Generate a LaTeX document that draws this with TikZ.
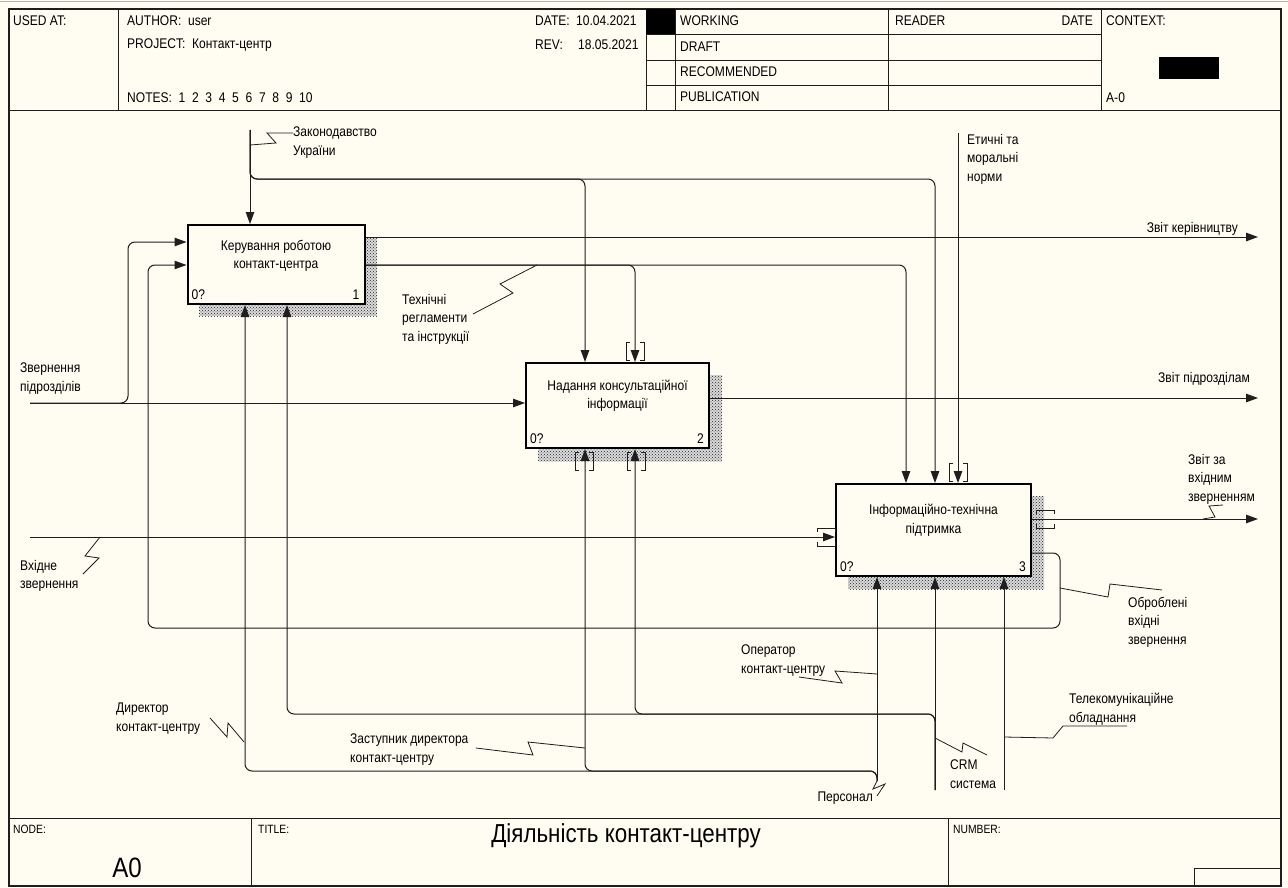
\documentclass[tikz,border=0pt]{standalone}
\usepackage{fontspec}
\setmainfont{Liberation Sans}[FakeStretch=0.86]
\usepackage{tikz}
\usetikzlibrary{arrows.meta,calc,patterns}
\definecolor{paper}{RGB}{255,252,242}
\definecolor{ink}{RGB}{30,30,30}
\newcommand{\lbl}{\fontsize{14}{18.5}\selectfont}
% tunnel brackets round a vertical / horizontal arrow
\newcommand{\tunv}[2]{%
  \draw[tun] (#1-5,#2-9) -- (#1-9,#2-9) -- (#1-9,#2+9) -- (#1-5,#2+9);
  \draw[tun] (#1+5,#2-9) -- (#1+9,#2-9) -- (#1+9,#2+9) -- (#1+5,#2+9);}
\newcommand{\tunh}[2]{%
  \draw[tun] (#1-9,#2-5) -- (#1-9,#2-9) -- (#1+9,#2-9) -- (#1+9,#2-5);
  \draw[tun] (#1-9,#2+5) -- (#1-9,#2+9) -- (#1+9,#2+9) -- (#1+9,#2+5);}

\begin{document}
\begin{tikzpicture}[
  x=1pt, y=-1pt,
  font=\lbl, text=black,
  frm/.style={draw=ink, line width=1.4pt},
  cell/.style={draw=ink, line width=0.9pt},
  fn/.style={draw=black, line width=2pt, fill=paper, inner sep=0pt},
  shd/.style={pattern=crosshatch dots, pattern color=black!85},
  arr/.style={draw=ink, line width=1pt, rounded corners=7pt},
  tun/.style={draw=ink, line width=1pt},
  sq/.style={draw=ink, line width=0.8pt},
  lab/.style={align=left, anchor=north west, inner sep=0pt},
  hd/.style={anchor=west, inner sep=0pt},
  >={Triangle[length=12pt,width=8.5pt]}
]
\useasboundingbox (0,0) rectangle (1288,888);
\fill[paper] (0,0) rectangle (1288,888);
\draw[gray!60, line width=1pt] (0,2) -- (1288,2);

% Frame and header
\draw[frm] (9,9) rectangle (1281,886);
\draw[cell] (9,110) -- (1281,110);
\draw[cell] (118,9) -- (118,110);
\draw[cell] (646,9) -- (646,110);
\draw[cell] (675,9) -- (675,110);
\draw[cell] (888,9) -- (888,110);
\draw[cell] (1101,9) -- (1101,110);
\foreach \y in {34,60,85} \draw[cell] (646,\y) -- (1101,\y);
\fill[black] (646,9) rectangle (675,34);
\fill[black] (1159,57) rectangle (1219,79);

\node[hd] (usedat) at (13,21) {USED AT:};
\node[hd] (author) at (127,21) {AUTHOR:\ \ user};
\node[hd] (project) at (127,45) {PROJECT:\ \ Контакт-центр};
\node[hd] (notes) at (127,98) {NOTES:\ \ 1\ \ 2\ \ 3\ \ 4\ \ 5\ \ 6\ \ 7\ \ 8\ \ 9\ \ 10};
\node[hd] (datek) at (535,21) {DATE:};
\node[hd] (datev) at (576,21) {10.04.2021};
\node[hd] (revk) at (535,45) {REV:};
\node[hd] (revv) at (578,45) {18.05.2021};
\node[hd] (working) at (680,21) {WORKING};
\node[hd] (draft) at (680,47) {DRAFT};
\node[hd] (recomm) at (680,72) {RECOMMENDED};
\node[hd] (public) at (680,97) {PUBLICATION};
\node[hd] (reader) at (895,21) {READER};
\node[anchor=east, inner sep=0pt] (rdate) at (1093,21) {DATE};
\node[hd] (context) at (1106,21) {CONTEXT:};
\node[hd] (ctxnode) at (1106,98) {A-0};

% Footer
\draw[cell] (9,818) -- (1281,818);
\draw[cell] (251,818) -- (251,886);
\draw[cell] (948,818) -- (948,886);
\draw[cell] (1194,886) -- (1194,868) -- (1281,868);
\node[hd, font=\fontsize{12}{14}\selectfont] (nodek) at (13,829) {NODE:};
\node[hd, font=\fontsize{12}{14}\selectfont] (titlek) at (258,829) {TITLE:};
\node[hd, font=\fontsize{12}{14}\selectfont] (numberk) at (953,829) {NUMBER:};
\node[inner sep=0pt, font=\fontsize{26}{30}\selectfont] (title) at (626,836) {Діяльність контакт-центру};
\node[inner sep=0pt, font=\fontsize{28}{32}\selectfont] (nodev) at (127,868) {A0};

% Function boxes with shadows
\fill[gray!30] (199,237) rectangle (377,316);
\fill[gray!30] (538,375) rectangle (722,461);
\fill[gray!30] (848,496) rectangle (1044,589);
\fill[shd] (199,237) rectangle (377,316);
\fill[shd] (538,375) rectangle (722,461);
\fill[shd] (848,496) rectangle (1044,589);
\node[fn, minimum width=177pt, minimum height=79pt] (b1) at (276,264.5) {};
\node[fn, minimum width=183pt, minimum height=85pt] (b2) at (617.5,405.5) {};
\node[fn, minimum width=195pt, minimum height=92pt] (b3) at (933.5,530) {};
\node[align=center, inner sep=0pt] (t1) at (276,256) {Керування роботою\\контакт-центра};
\node[align=center, inner sep=0pt] (t2) at (617.5,396) {Надання консультаційної\\інформації};
\node[align=center, inner sep=0pt] (t3) at (933.5,520.5) {Інформаційно-технічна\\підтримка};
\node[anchor=base west, inner sep=0pt] (n1a) at ($(b1.south west)+(5,-6)$) {0?};
\node[anchor=base east, inner sep=0pt] (n1b) at ($(b1.south east)+(-6,-6)$) {1};
\node[anchor=base west, inner sep=0pt] (n2a) at ($(b2.south west)+(5,-6)$) {0?};
\node[anchor=base east, inner sep=0pt] (n2b) at ($(b2.south east)+(-6,-6)$) {2};
\node[anchor=base west, inner sep=0pt] (n3a) at ($(b3.south west)+(5,-6)$) {0?};
\node[anchor=base east, inner sep=0pt] (n3b) at ($(b3.south east)+(-6,-6)$) {3};

% Boundary ends
\coordinate (lawsrc) at (250,130);
\coordinate (ethsrc) at (958,133);
\coordinate (reqsrc) at (30,403);
\coordinate (insrc) at (30,537);
\coordinate (staffsrc) at (877,781);
\coordinate (crmsrc) at (935,790);
\coordinate (telsrc) at (1004,790);
\coordinate (rep1) at (1258,237);
\coordinate (rep2) at (1258,398);
\coordinate (rep3) at (1258,519);

% Controls
\draw[arr,->] (lawsrc) -- (lawsrc |- b1.north);
\draw[arr,->] (lawsrc) -- (250,179) -- (585,179) -- (585,0 |- b2.north);
\draw[arr,->] (lawsrc) -- (250,179) -- (935,179) -- (935,0 |- b3.north);
\draw[arr,->] (b1.east |- 0,265) -- (635,265) -- (635,0 |- b2.north);
\draw[arr,->] (b1.east |- 0,265) -- (906,265) -- (906,0 |- b3.north);
\draw[arr,->] (ethsrc) -- (ethsrc |- b3.north);
\tunv{635}{351}
\tunv{958}{472}

% Inputs
\draw[arr,->] (reqsrc) -- (reqsrc -| b2.west);
\draw[arr,->] (reqsrc) -- (128,403) -- (128,242) -- (b1.west |- 0,242);
\draw[arr,->] (insrc) -- (insrc -| b3.west);
\tunh{826}{537}
\draw[arr,->] (b3.east |- 0,553) -- (1060,553) -- (1060,628) -- (148,628) -- (148,265) -- (b1.west |- 0,265);

% Outputs
\draw[arr,->] (b1.east |- 0,237) -- (rep1);
\draw[arr,->] (b2.east |- 0,398) -- (rep2);
\draw[arr,->] (b3.east |- 0,519) -- (rep3);
\tunh{1045}{519}

% Mechanisms
\draw[arr,->] (staffsrc) -- (staffsrc |- b3.south);
\draw[arr,->] (staffsrc) -- (877,771) -- (585,771) -- (585,0 |- b2.south);
\draw[arr,->] (staffsrc) -- (877,771) -- (245,771) -- (245,0 |- b1.south);
\draw[arr,->] (crmsrc) -- (crmsrc |- b3.south);
\draw[arr,->] (crmsrc) -- (935,714) -- (635,714) -- (635,0 |- b2.south);
\draw[arr,->] (crmsrc) -- (935,714) -- (287,714) -- (287,0 |- b1.south);
\draw[arr,->] (telsrc) -- (telsrc |- b3.south);
\tunv{584}{461}
\tunv{636}{461}

% Arrow labels
\node[lab] (lawlbl) at (293,127) {Законодавство\\України};
\node[lab] (techlbl) at (402,294) {Технічні\\регламенти\\та інструкції};
\node[lab] (ethlbl) at (967,134) {Етичні та\\моральні\\норми};
\node[anchor=base east, inner sep=0pt] (rep1lbl) at (1238,232) {Звіт керівництву};
\node[anchor=base west, inner sep=0pt] (rep2lbl) at (1158,382) {Звіт підрозділам};
\node[lab] (rep3lbl) at (1188,454) {Звіт за\\вхідним\\зверненням};
\node[lab] (reqlbl) at (20,363) {Звернення\\підрозділів};
\node[lab] (inlbl) at (20,560) {Вхідне\\звернення};
\node[lab] (donelbl) at (1128,597) {Оброблені\\вхідні\\звернення};
\node[lab] (oplbl) at (741,645) {Оператор\\контакт-центру};
\node[lab] (dirlbl) at (116,703) {Директор\\контакт-центру};
\node[lab] (deplbl) at (350,734) {Заступник директора\\контакт-центру};
\node[anchor=base east, inner sep=0pt] (stafflbl) at (873,801) {Персонал};
\node[lab] (crmlbl) at (950,760) {CRM\\система};
\node[lab] (tellbl) at (1069,693) {Телекомунікаційне\\обладнання};

% Squiggles
\draw[sq] (250,145) -- (276,143) -- (267,133) -- (lawlbl.west |- 0,133);
\draw[sq] (537,265) -- (500,284) -- (513,293) -- (473,314);
\draw[sq] (100,537) -- (85,556) -- (99,558) -- (83,574);
\draw[sq] (244,742) -- (228,723) -- (227,737) -- (210,718);
\draw[sq] (585,748) -- (528,742) -- (533,755) -- (476,748);
\draw[sq] (877,674) -- (835,671) -- (842,683) -- (799,677);
\draw[sq] (staffsrc) -- (873,789) -- (885,784) -- (877,796);
\draw[sq] (935,738) -- (962,752) -- (963,743) -- (987,755);
\draw[sq] (1004,737) -- (1053,738) -- (1063,726) -- (1127,726);
\draw[sq] (1060,588) -- (1108,597) -- (1110,584) -- (1162,590);
\draw[sq] (1203,519) -- (1215,517) -- (1209,506) -- (1223,505);
\end{tikzpicture}
\end{document}
